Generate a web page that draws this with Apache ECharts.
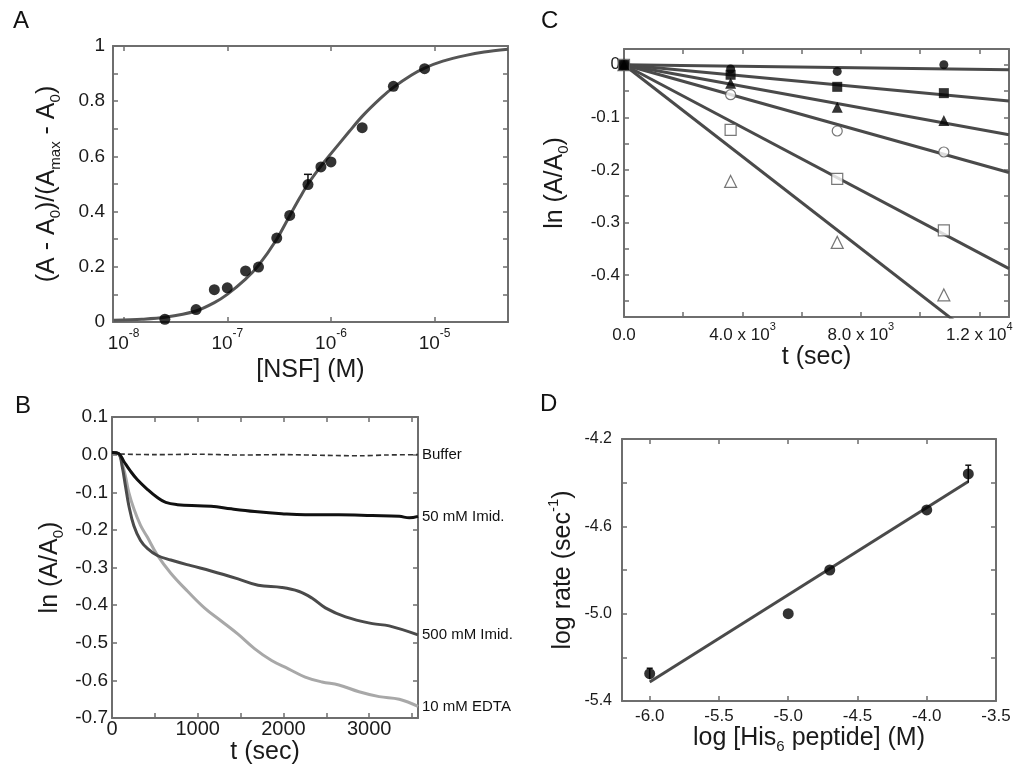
<!DOCTYPE html>
<html>
<head>
<meta charset="utf-8">
<script src="https://cdn.jsdelivr.net/npm/echarts@6/dist/echarts.min.js"></script>
<style>
html,body{margin:0;padding:0;background:#fff;}
#c{width:1019px;height:766px;}
</style>
</head>
<body>
<div id="c"></div>
<script>
// ---------- Panel A : binding curve ----------
const nsfConc = [2.5e-8, 5e-8, 7.5e-8, 1e-7, 1.5e-7, 2e-7, 3e-7, 4e-7, 6e-7, 8e-7, 1e-6, 2e-6, 4e-6, 8e-6];
const nsfFrac = [0.01, 0.045, 0.117, 0.124, 0.185, 0.199, 0.304, 0.386, 0.498, 0.562, 0.58, 0.704, 0.854, 0.918];
const nsfErrConc = [6e-7];
const nsfErrLow = [0.498];
const nsfErrHigh = [0.535];
const fitConc = [8e-9, 1.5e-8, 2.5e-8, 5e-8, 7.5e-8, 1e-7, 1.5e-7, 2e-7, 3e-7, 4e-7, 5e-7, 6e-7, 8e-7, 1e-6, 1.5e-6, 2e-6, 3e-6, 4e-6, 6e-6, 8e-6, 1.2e-5, 2e-5, 3e-5, 5.1e-5];
const fitFrac = [0.006, 0.01, 0.017, 0.04, 0.07, 0.1, 0.155, 0.205, 0.3, 0.385, 0.45, 0.5, 0.565, 0.61, 0.69, 0.745, 0.81, 0.85, 0.895, 0.92, 0.945, 0.966, 0.978, 0.988];
const aYTicks = [0, 0.1, 0.2, 0.3, 0.4, 0.5, 0.6, 0.7, 0.8, 0.9, 1];
const aYLabels = [0, 0.2, 0.4, 0.6, 0.8, 1];

// ---------- Panel B : time courses ----------
const bufT = [0, 78, 500, 1000, 1500, 2000, 2500, 2900, 3200, 3570];
const bufV = [0.005, 0.002, 0.0, 0.001, -0.001, 0.0, -0.002, -0.003, -0.001, 0.0];
const imid50T = [0, 78, 137, 216, 294, 412, 529, 627, 764, 1000, 1156, 1392, 1666, 1980, 2254, 2646, 3038, 3352, 3469, 3570];
const imid50V = [0.006, 0.003, -0.0175, -0.044, -0.066, -0.092, -0.114, -0.127, -0.133, -0.136, -0.137, -0.144, -0.151, -0.157, -0.160, -0.160, -0.162, -0.164, -0.168, -0.164];
const imid500T = [0, 78, 118, 157, 196, 255, 333, 412, 529, 686, 921, 1156, 1470, 1705, 1980, 2176, 2332, 2489, 2725, 3038, 3234, 3570];
const imid500V = [0.006, 0.002, -0.031, -0.083, -0.135, -0.189, -0.228, -0.249, -0.268, -0.28, -0.295, -0.309, -0.33, -0.347, -0.353, -0.363, -0.381, -0.407, -0.431, -0.449, -0.455, -0.479];
const edtaT = [0, 78, 118, 157, 196, 255, 333, 412, 529, 686, 882, 1078, 1274, 1470, 1666, 1862, 2058, 2254, 2450, 2646, 2882, 3117, 3352, 3570];
const edtaV = [0.006, 0.002, -0.022, -0.057, -0.1, -0.144, -0.188, -0.219, -0.267, -0.315, -0.363, -0.407, -0.442, -0.477, -0.516, -0.547, -0.569, -0.591, -0.604, -0.612, -0.63, -0.643, -0.65, -0.669];
const bXTicks = [0, 500, 1000, 1500, 2000, 2500, 3000, 3500];
const bXLabels = [0, 1000, 2000, 3000];
const bYTicks = [-0.7, -0.6, -0.5, -0.4, -0.3, -0.2, -0.1, 0, 0.1];

// ---------- Panel C : first-order plots ----------
const cTimes = [0, 3600, 7200, 10800];
const cFilledCircle = [0, -0.008, -0.0126, 0.0];
const cFilledSquare = [0, -0.019, -0.042, -0.054];
const cFilledTri = [0, -0.035, -0.081, -0.106];
const cOpenCircle = [0, -0.057, -0.126, -0.166];
const cOpenSquare = [0, -0.124, -0.217, -0.315];
const cOpenTri = [0, -0.222, -0.338, -0.438];
const cFitT = [0, 13000];
const cFitFilledCircle = [0, -0.0095];
const cFitFilledSquare = [0, -0.069];
const cFitFilledTri = [0, -0.133];
const cFitOpenCircle = [0, -0.205];
const cFitOpenSquare = [0, -0.388];
const cFitOpenTri = [0, -0.568];
const cXTicks = [0, 2000, 4000, 6000, 8000, 10000, 12000];
const cXLabels = [0, 4000, 8000, 12000];
const cYTicks = [-0.45, -0.4, -0.35, -0.3, -0.25, -0.2, -0.15, -0.1, -0.05, 0];
const cYLabels = [-0.4, -0.3, -0.2, -0.1, 0];

// ---------- Panel D : log rate vs log [His6] ----------
const dX = [-6.0, -5.0, -4.7, -4.0, -3.7];
const dY = [-5.275, -5.0, -4.80, -4.525, -4.36];
const dErrX = [-6.0, -3.7];
const dErrLow = [-5.30, -4.40];
const dErrHigh = [-5.25, -4.32];
const dFitX = [-6.0, -3.7];
const dFitY = [-5.313, -4.395];
const dXTicks = [-6.0, -5.5, -5.0, -4.5, -4.0, -3.5];
const dYTicks = [-5.4, -5.2, -5.0, -4.8, -4.6, -4.4, -4.2];
const dYLabels = [-5.4, -5.0, -4.6, -4.2];

const FONT = '"Liberation Sans", Arial, sans-serif';
const FRAME = '#6e6e6e';
const INK = '#1a1a1a';
const zip = (a, b) => a.map((v, i) => [v, b[i]]);

function axis(kind, grid, pos, o) {
  const ax = {
    type: o.type || 'value',
    gridIndex: grid,
    position: pos,
    min: o.min, max: o.max,
    axisLine: { show: true, onZero: false, lineStyle: { color: FRAME, width: 2 } },
    axisTick: { show: true, inside: true, length: 5, lineStyle: { color: FRAME, width: 1.5 } },
    splitLine: { show: false },
    axisLabel: { show: !!o.label, color: INK, fontFamily: FONT, fontSize: o.fontSize || 19, margin: o.margin == null ? 5 : o.margin }
  };
  if (o.ticks) ax.axisTick.customValues = o.ticks;
  if (o.labels) ax.axisLabel.customValues = o.labels;
  if (o.fmt) ax.axisLabel.formatter = o.fmt;
  if (o.rich) ax.axisLabel.rich = o.rich;
  if (o.type === 'log') { ax.logBase = 10; ax.axisLabel.showMinLabel = false; ax.axisLabel.showMaxLabel = false; }
  if (o.name) {
    ax.name = o.name;
    ax.nameLocation = 'middle';
    ax.nameGap = o.nameGap;
    ax.nameTextStyle = { color: INK, fontFamily: FONT, fontSize: 25, rich: o.nameRich };
  }
  return ax;
}

const subRich = {
  m: { fontFamily: FONT, fontSize: 25, lineHeight: 28, verticalAlign: 'top', color: INK },
  s: { fontFamily: FONT, fontSize: 15, lineHeight: 14, verticalAlign: 'bottom', color: INK }
};
const supRich = {
  m: { fontFamily: FONT, fontSize: 25, lineHeight: 30, verticalAlign: 'bottom', color: INK },
  p: { fontFamily: FONT, fontSize: 15, lineHeight: 14, verticalAlign: 'top', color: INK }
};
const tickSupRich = (fs) => ({
  t: { fontFamily: FONT, fontSize: fs, lineHeight: fs + 6, verticalAlign: 'bottom', color: INK },
  p: { fontFamily: FONT, fontSize: Math.round(fs * 0.62), lineHeight: 10, verticalAlign: 'top', color: INK }
});

const grids = [
  { left: 113, top: 46, width: 395, height: 276 },   // A
  { left: 112, top: 417, width: 306, height: 305 },  // B
  { left: 624, top: 49, width: 385, height: 268 },   // C
  { left: 622, top: 439, width: 374, height: 262 }   // D
];

const aMin = 7.9e-9, aMax = 5.1e-5;
const xAxes = [
  axis('x', 0, 'bottom', { type: 'log', min: aMin, max: aMax, label: true, margin: 6,
    fmt: v => '{t|10}{p|' + Math.round(Math.log10(v)) + '}', rich: tickSupRich(19),
    name: '[NSF] (M)', nameGap: 36 }),
  axis('x', 0, 'top', { type: 'log', min: aMin, max: aMax }),
  axis('x', 1, 'bottom', { min: 0, max: 3570, ticks: bXTicks, labels: bXLabels, label: true, margin: 1, fontSize: 20,
    fmt: v => String(v), name: 't (sec)', nameGap: 19 }),
  axis('x', 1, 'top', { min: 0, max: 3570, ticks: bXTicks }),
  axis('x', 2, 'bottom', { min: 0, max: 13000, ticks: cXTicks, labels: cXLabels, label: true, margin: 4, fontSize: 17,
    fmt: v => v === 0 ? '{t|0.0}' : (v < 10000 ? '{t|' + (v / 1000).toFixed(1) + ' x 10}{p|3}' : '{t|' + (v / 10000).toFixed(1) + ' x 10}{p|4}'),
    rich: tickSupRich(17), name: 't (sec)', nameGap: 25 }),
  axis('x', 2, 'top', { min: 0, max: 13000, ticks: cXTicks }),
  axis('x', 3, 'bottom', { min: -6.2, max: -3.5, ticks: dXTicks, labels: dXTicks, label: true, margin: 7, fontSize: 17,
    fmt: v => v.toFixed(1), name: '{m|log [His}{s|6}{m| peptide] (M)}', nameRich: subRich, nameGap: 23 }),
  axis('x', 3, 'top', { min: -6.2, max: -3.5, ticks: dXTicks })
];
const yAxes = [
  axis('y', 0, 'left', { min: 0, max: 1, ticks: aYTicks, labels: aYLabels, label: true, margin: 8,
    fmt: v => (v === 0 || v === 1) ? String(v) : v.toFixed(1),
    name: '{m|(A - A}{s|0}{m|)/(A}{s|max}{m| - A}{s|0}{m|)}', nameRich: subRich, nameGap: 50 }),
  axis('y', 0, 'right', { min: 0, max: 1, ticks: aYTicks }),
  axis('y', 1, 'left', { min: -0.7, max: 0.1, ticks: bYTicks, labels: bYTicks, label: true, margin: 4,
    fmt: v => v.toFixed(1), name: '{m|ln (A/A}{s|0}{m|)}', nameRich: subRich, nameGap: 46 }),
  axis('y', 1, 'right', { min: -0.7, max: 0.1, ticks: bYTicks }),
  axis('y', 2, 'left', { min: -0.48, max: 0.03, ticks: cYTicks, labels: cYLabels, label: true, margin: 4, fontSize: 17,
    fmt: v => v === 0 ? '0' : v.toFixed(1), name: '{m|ln (A/A}{s|0}{m|)}', nameRich: subRich, nameGap: 53 }),
  axis('y', 2, 'right', { min: -0.48, max: 0.03, ticks: cYTicks }),
  axis('y', 3, 'left', { min: -5.4, max: -4.2, ticks: dYTicks, labels: dYLabels, label: true, margin: 10, fontSize: 16,
    fmt: v => v.toFixed(1), name: '{m|log rate (sec}{p|-1}{m|)}', nameRich: supRich, nameGap: 46 }),
  axis('y', 3, 'right', { min: -5.4, max: -4.2, ticks: dYTicks })
];

function errSeries(xi, yi, xs, lo, hi, capW) {
  return {
    type: 'custom', xAxisIndex: xi, yAxisIndex: yi, z: 4,
    data: xs.map((x, i) => [x, lo[i], hi[i]]),
    encode: { x: 0, y: [1, 2] },
    renderItem: (params, api) => {
      const p1 = api.coord([api.value(0), api.value(1)]);
      const p2 = api.coord([api.value(0), api.value(2)]);
      const st = { stroke: '#111', lineWidth: 1.5 };
      return { type: 'group', children: [
        { type: 'line', shape: { x1: p1[0], y1: p1[1], x2: p2[0], y2: p2[1] }, style: st },
        { type: 'line', shape: { x1: p2[0] - capW, y1: p2[1], x2: p2[0] + capW, y2: p2[1] }, style: st }
      ] };
    }
  };
}

const endLbl = (txt) => ({ show: true, formatter: txt, color: '#111', fontFamily: FONT, fontSize: 15, distance: 4 });
const fitLine = (vals, xi, yi) => ({ type: 'line', xAxisIndex: xi, yAxisIndex: yi, data: zip(cFitT, vals),
  symbol: 'none', lineStyle: { color: '#4a4a4a', width: 3 }, z: 2, silent: true });
const openMk = { color: '#fff', borderColor: '#555', borderWidth: 1.2 };
const fillMk = { color: '#000' };

const series = [
  // A
  { type: 'line', xAxisIndex: 0, yAxisIndex: 0, data: zip(fitConc, fitFrac), smooth: 0.3, symbol: 'none',
    lineStyle: { color: '#555', width: 3 }, z: 2 },
  errSeries(0, 0, nsfErrConc, nsfErrLow, nsfErrHigh, 4),
  { type: 'scatter', xAxisIndex: 0, yAxisIndex: 0, data: zip(nsfConc, nsfFrac), symbol: 'circle', symbolSize: 11,
    itemStyle: { color: '#000' }, z: 5 },
  // B
  { type: 'line', xAxisIndex: 2, yAxisIndex: 2, data: zip(bufT, bufV), symbol: 'none', smooth: 0.3,
    lineStyle: { color: '#333', width: 1.6, type: [5, 3] }, endLabel: endLbl('Buffer') },
  { type: 'line', xAxisIndex: 2, yAxisIndex: 2, data: zip(edtaT, edtaV), symbol: 'none', smooth: 0.4,
    lineStyle: { color: '#a8a8a8', width: 3 }, endLabel: endLbl('10 mM EDTA') },
  { type: 'line', xAxisIndex: 2, yAxisIndex: 2, data: zip(imid500T, imid500V), symbol: 'none', smooth: 0.4,
    lineStyle: { color: '#4a4a4a', width: 3 }, endLabel: endLbl('500 mM Imid.') },
  { type: 'line', xAxisIndex: 2, yAxisIndex: 2, data: zip(imid50T, imid50V), symbol: 'none', smooth: 0.4,
    lineStyle: { color: '#111', width: 3 }, endLabel: endLbl('50 mM Imid.') },
  // C fits
  fitLine(cFitFilledCircle, 4, 4), fitLine(cFitFilledSquare, 4, 4), fitLine(cFitFilledTri, 4, 4),
  fitLine(cFitOpenCircle, 4, 4), fitLine(cFitOpenSquare, 4, 4), fitLine(cFitOpenTri, 4, 4),
  // C markers
  { type: 'scatter', xAxisIndex: 4, yAxisIndex: 4, data: zip(cTimes, cOpenTri), symbol: 'triangle', symbolSize: 12, itemStyle: openMk, z: 5 },
  { type: 'scatter', xAxisIndex: 4, yAxisIndex: 4, data: zip(cTimes, cOpenSquare), symbol: 'rect', symbolSize: 11, itemStyle: openMk, z: 5 },
  { type: 'scatter', xAxisIndex: 4, yAxisIndex: 4, data: zip(cTimes, cOpenCircle), symbol: 'circle', symbolSize: 10, itemStyle: openMk, z: 5 },
  { type: 'scatter', xAxisIndex: 4, yAxisIndex: 4, data: zip(cTimes, cFilledTri), symbol: 'triangle', symbolSize: 11, itemStyle: fillMk, z: 6 },
  { type: 'scatter', xAxisIndex: 4, yAxisIndex: 4, data: zip(cTimes, cFilledCircle), symbol: 'circle', symbolSize: 9, itemStyle: fillMk, z: 6 },
  { type: 'scatter', xAxisIndex: 4, yAxisIndex: 4, data: zip(cTimes, cFilledSquare), symbol: 'rect', symbolSize: 10, itemStyle: fillMk, z: 7 },
  // D
  { type: 'line', xAxisIndex: 6, yAxisIndex: 6, data: zip(dFitX, dFitY), symbol: 'none',
    lineStyle: { color: '#4a4a4a', width: 3 }, z: 2 },
  errSeries(6, 6, dErrX, dErrLow, dErrHigh, 3),
  { type: 'scatter', xAxisIndex: 6, yAxisIndex: 6, data: zip(dX, dY), symbol: 'circle', symbolSize: 11,
    itemStyle: { color: '#000' }, z: 5 }
];

const letter = (t, x, y) => ({ type: 'text', left: x, top: y,
  style: { text: t, font: '24px ' + FONT, fill: '#111' } });

const chart = echarts.init(document.getElementById('c'), null, { renderer: 'canvas' });
chart.setOption({
  backgroundColor: '#fff',
  animation: false,
  grid: grids,
  xAxis: xAxes,
  yAxis: yAxes,
  series: series,
  graphic: [letter('A', 13, 9), letter('B', 15, 394), letter('C', 541, 9), letter('D', 540, 392)]
});
</script>
</body>
</html>
